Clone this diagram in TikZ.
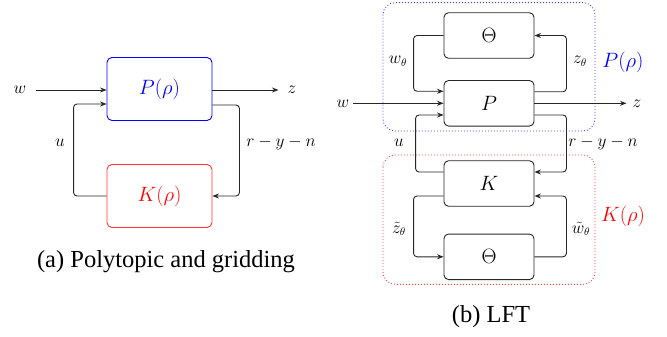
\documentclass[tikz,border=0pt]{standalone}
\usepackage[no-math]{fontspec}
\setmainfont{Liberation Serif}
\usetikzlibrary{arrows.meta}
\begin{document}
\begin{tikzpicture}[x=1pt,y=-1pt,
  conn/.style={draw=black!85,line width=0.9pt,rounded corners=3.5pt},
  arr/.style={-{Stealth[length=6.5pt,width=5pt]}},
  lbl/.style={font=\fontsize{16}{18}\selectfont,inner sep=0pt},
  bigbox/.style={draw,line width=0.9pt,rounded corners=5pt,minimum width=105pt,minimum height=63pt,inner sep=0pt,font=\fontsize{22}{26}\selectfont},
  smallbox/.style={draw=black!85,line width=0.9pt,rounded corners=4.5pt,minimum width=90pt,minimum height=45.5pt,inner sep=0pt,font=\fontsize{22}{26}\selectfont},
  blk/.style={font=\fontsize{21.5}{26}\selectfont,inner sep=0pt},
  captxt/.style={font=\rmfamily\fontsize{24.5}{28}\selectfont,inner sep=0pt},
  dotbox/.style={line width=0.9pt,dash pattern=on 0.9pt off 2.1pt,rounded corners=12pt}]
\useasboundingbox (0,0) rectangle (667,337);
% ---------------- (a) ----------------
\node[bigbox,draw=blue,text=blue] (Pa) at (159.5,89) {$P(\rho)$};
\node[bigbox,draw=red!80,text=red] (Ka) at (159.5,196) {$K(\rho)$};
\node[lbl] (wa) at (20,90) {$w$};
\node[lbl] (za) at (292,90) {$z$};
\node[lbl] (ua) at (60,143) {$u$};
\node[lbl] (ra) at (281,143) {$r-y-n$};
\draw[conn,arr] (wa.east) ++(10,0) coordinate (wastart) -- (wastart -| Pa.west);
\draw[conn,arr] (Pa.east |- za) -- ++(66,0) coordinate (zaend);
\draw[conn,arr] (Ka.west) -- ++(-33,0) |- ([yshift=-15pt]Pa.west);
\draw[conn,arr] ([yshift=-16pt]Pa.east) -- ++(27,0) |- (Ka.east);
\node[captxt] (capa) at (166,262) {(a) Polytopic and gridding};
% ---------------- (b) ----------------
\draw[dotbox,draw=blue!75] (383,2.7) rectangle (595,131);
\draw[dotbox,draw=red!75] (383,155) rectangle (595,284.3);
\node[smallbox] (T1) at (489,35.5) {$\Theta$};
\node[smallbox] (Pb) at (489,103.3) {$P$};
\node[smallbox] (Kb) at (489,183.5) {$K$};
\node[smallbox] (T2) at (489,256.8) {$\Theta$};
\node[lbl] (wb) at (343,103.3) {$w$};
\node[lbl] (zb) at (637,103.3) {$z$};
\node[lbl] (wt) at (398,61) {$w_\theta$};
\node[lbl] (zt) at (580,61) {$z_\theta$};
\node[lbl] (ub) at (399,143) {$u$};
\node[lbl] (rb) at (603,143) {$r-y-n$};
\node[lbl] (zt2) at (399,229) {$\tilde{z}_\theta$};
\node[lbl] (wt2) at (581,229) {$\tilde{w}_\theta$};
\node[blk,text=blue] (Prho) at (623,62) {$P(\rho)$};
\node[blk,text=red] (Krho) at (623,216) {$K(\rho)$};
\draw[conn,arr] (wb.east) ++(4,0) coordinate (wbstart) -- (wbstart -| Pb.west);
\draw[conn,arr] (Pb.east) -- ([xshift=-6pt]zb.west);
\draw[conn,arr] (T1.west) -- ++(-30,0) |- ([yshift=12pt]Pb.west);
\draw[conn,arr] ([yshift=11.5pt]Pb.east) -- ++(32,0) |- (T1.east);
\draw[conn,arr] ([yshift=11.5pt]Kb.west) -- ++(-28,0) |- ([yshift=-11.7pt]Pb.west);
\draw[conn,arr] ([yshift=-11.7pt]Pb.east) -- ++(32,0) |- ([yshift=11.5pt]Kb.east);
\draw[conn,arr] ([yshift=-12.5pt]Kb.west) -- ++(-30,0) |- (T2.west);
\draw[conn,arr] (T2.east) -- ++(32,0) |- ([yshift=-12.5pt]Kb.east);
\node[captxt] (capb) at (491,317) {(b) LFT};
\end{tikzpicture}
\end{document}
